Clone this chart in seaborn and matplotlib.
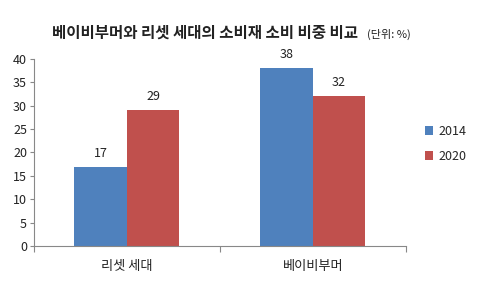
import matplotlib
matplotlib.use("Agg")
import matplotlib.pyplot as plt
import seaborn as sns
import pandas as pd
from matplotlib.ticker import FixedLocator

categories = ["리셋 세대", "베이비부머"]
years = ["2014", "2020"]
values_2014 = [17, 38]
values_2020 = [29, 32]
yticks = [0, 5, 10, 15, 20, 25, 30, 35, 40]

df = pd.DataFrame({
    "category": categories * 2,
    "year": [years[0]] * 2 + [years[1]] * 2,
    "value": values_2014 + values_2020,
})

sns.set_theme(style="white")
plt.rcParams['font.family'] = ['Noto Sans CJK KR', 'DejaVu Sans']

fig = plt.figure(figsize=(4.78, 2.88), dpi=100)
ax = fig.add_axes([0.071, 0.146, 0.778, 0.649])

palette = {"2014": "#4F81BD", "2020": "#C0504D"}
sns.barplot(data=df, x="category", y="value", hue="year", palette=palette,
            width=0.565, ax=ax, saturation=1, legend=True, linewidth=0)

for c in ax.containers:
    ax.bar_label(c, padding=5, fontsize=9, color="#222222")

ax.set_ylim(0, 40)
ax.set_xlim(-0.5, 1.5)
ax.set_yticks(yticks)
ax.tick_params(axis="y", length=3, width=0.8, colors="#888888", labelcolor="#222222", labelsize=9, pad=2, left=True)
ax.tick_params(axis="x", which="major", length=0, labelsize=9.5, labelcolor="#222222", pad=10)
ax.xaxis.set_minor_locator(FixedLocator([-0.5, 0.5, 1.5]))
ax.tick_params(axis="x", which="minor", length=4, width=0.8, color="#888888", bottom=True)
ax.set_xlabel("")
ax.set_ylabel("")
for s in ["top", "right"]:
    ax.spines[s].set_visible(False)
for s in ["left", "bottom"]:
    ax.spines[s].set_color("#888888")
    ax.spines[s].set_linewidth(0.8)

leg = ax.legend(loc="center left", bbox_to_anchor=(1.02, 0.545), frameon=False,
                fontsize=9, handlelength=0.7, handleheight=0.7, labelspacing=0.95,
                handletextpad=0.4)

fig.text(0.108, 0.885, "베이비부머와 리셋 세대의 소비재 소비 비중 비교", fontsize=11.2, fontweight="bold",
         ha="left", va="center", color="#222222")
fig.text(0.768, 0.880, "(단위: %)", fontsize=8, ha="left", va="center", color="#222222")

fig.savefig("out.png", dpi=100)
